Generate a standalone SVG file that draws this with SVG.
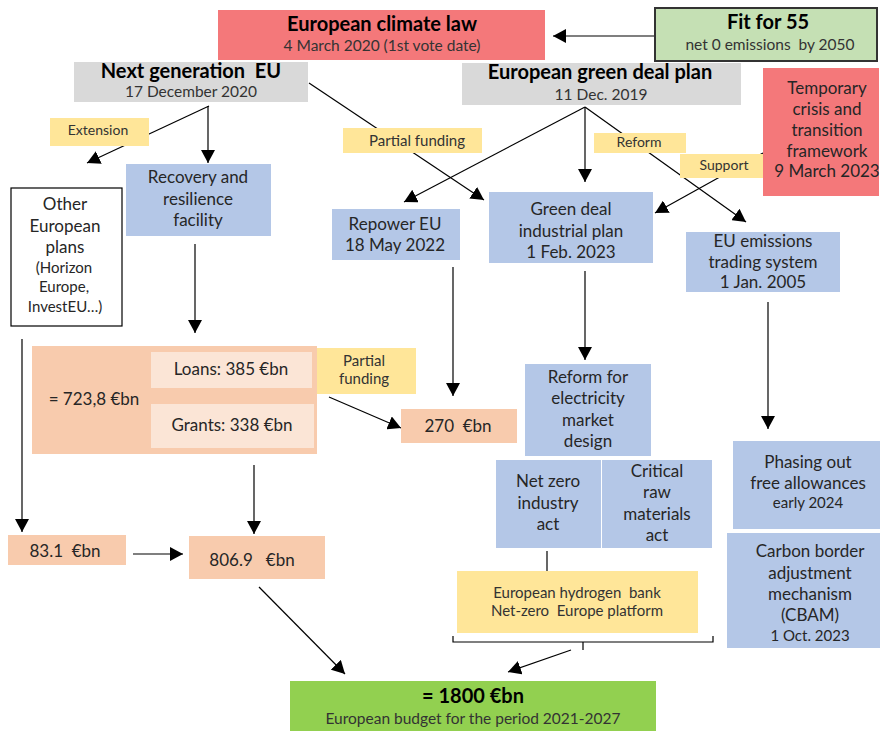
<svg xmlns="http://www.w3.org/2000/svg" width="880" height="731" viewBox="0 0 880 731">
<style>
text{font-family:Lato,"Open Sans","Liberation Sans",sans-serif;fill:#262626;text-anchor:middle;white-space:pre}
.t{font-weight:bold;font-size:20px;fill:#000}
.s{font-size:15.5px;fill:#333}
.b{font-size:17px}
.m{font-size:15px}
.l{font-size:14px;fill:#333}
.h{font-size:15px;fill:#333}
.red{fill:#F4787A}
.gray{fill:#D9D9D9}
.blue{fill:#B4C7E7}
.org{fill:#F8CBAD}
.lorg{fill:#FBE5D6}
.yel{fill:#FFE699}
.c line,.c path{stroke:#000;stroke-width:1.2;fill:none}
.c .a{marker-end:url(#ah)}
</style>
<defs>
<marker id="ah" markerUnits="userSpaceOnUse" markerWidth="14" markerHeight="14" refX="13" refY="7" orient="auto">
<path d="M0,0 L13,7 L0,14 z" fill="#000"/>
</marker>
</defs>
<rect width="880" height="731" fill="#fff"/>
<g class="c" id="connectors">
<line class="a" x1="654" y1="36" x2="553" y2="36"/>
<line class="a" x1="209" y1="106" x2="87" y2="163"/>
<line class="a" x1="208" y1="106" x2="208" y2="163"/>
<line class="a" x1="309" y1="83" x2="484" y2="200"/>
<line class="a" x1="585" y1="107" x2="404" y2="202"/>
<line class="a" x1="585" y1="107" x2="585" y2="182"/>
<line class="a" x1="585" y1="107" x2="746" y2="222"/>
<line class="a" x1="763" y1="153" x2="655" y2="213"/>
<line class="a" x1="195" y1="244" x2="195" y2="333"/>
<line class="a" x1="22" y1="339" x2="22" y2="532"/>
<line class="a" x1="453" y1="267" x2="453" y2="396"/>
<line class="a" x1="329" y1="397" x2="401" y2="428"/>
<line class="a" x1="585" y1="271" x2="585" y2="360"/>
<line class="a" x1="768" y1="302" x2="768" y2="429"/>
<line class="a" x1="254" y1="465" x2="254" y2="534"/>
<line class="a" x1="133" y1="554" x2="183" y2="554"/>
<line class="a" x1="259" y1="587" x2="345" y2="674"/>
<line x1="547" y1="551" x2="547" y2="573"/>
<path d="M453,636 V642 H713 V636 M583,642 V650"/>
<line class="a" x1="571" y1="650" x2="508" y2="672"/>
</g>
<g id="climate-law">
<rect class="red" x="218" y="10" width="327" height="50"/>
<text class="t" x="382" y="31">European climate law</text>
<text class="s" x="382" y="51">4 March 2020 (1st vote date)</text>
</g>
<g id="fit-for-55">
<rect x="655" y="8" width="222" height="53" fill="#C5E0B4" stroke="#333" stroke-width="2"/>
<text class="t" x="768" y="29">Fit for 55</text>
<text class="s" x="770" y="50">net 0 emissions  by 2050</text>
</g>
<g id="ngeu">
<rect class="gray" x="74" y="62" width="234" height="40"/>
<text class="t" x="191" y="78">Next generation  EU</text>
<text class="s" x="191" y="97">17 December 2020</text>
</g>
<g id="green-deal">
<rect class="gray" x="462" y="63" width="279" height="42"/>
<text class="t" x="600" y="79">European green deal plan</text>
<text class="s" x="601" y="100">11 Dec. 2019</text>
</g>
<g id="temporary">
<rect class="red" x="763" y="68" width="116" height="128"/>
<text class="b" x="827" y="94">Temporary</text>
<text class="b" x="827" y="115">crisis and</text>
<text class="b" x="827" y="136">transition</text>
<text class="b" x="827" y="157">framework</text>
<text class="b" x="827" y="177">9 March 2023</text>
</g>
<g id="lbl-extension">
<rect class="yel" x="50" y="118" width="99" height="28"/>
<text class="l" x="98" y="135">Extension</text>
</g>
<g id="lbl-partial-funding-1">
<rect class="yel" x="343" y="128" width="139" height="25"/>
<text class="h" x="417" y="146">Partial funding</text>
</g>
<g id="lbl-reform">
<rect class="yel" x="594" y="133" width="92" height="20"/>
<text class="l" x="639" y="147">Reform</text>
</g>
<g id="lbl-support">
<rect class="yel" x="680" y="154" width="83" height="24"/>
<text class="l" x="724" y="170">Support</text>
</g>
<g id="other-plans">
<rect x="11" y="188" width="111" height="138" fill="#fff" stroke="#000" stroke-width="1.2"/>
<text class="b" x="65" y="210">Other</text>
<text class="b" x="65" y="232">European</text>
<text class="b" x="65" y="253">plans</text>
<text class="m" x="64" y="273">(Horizon</text>
<text class="m" x="64" y="292">Europe,</text>
<text class="m" x="65" y="312">InvestEU…)</text>
</g>
<g id="rrf">
<rect class="blue" x="126" y="164" width="145" height="72"/>
<text class="b" x="198" y="183">Recovery and</text>
<text class="b" x="198" y="205">resilience</text>
<text class="b" x="198" y="226">facility</text>
</g>
<g id="repower">
<rect class="blue" x="332" y="209" width="128" height="51"/>
<text class="b" x="395" y="230">Repower EU</text>
<text class="b" x="395" y="251">18 May 2022</text>
</g>
<g id="gdip">
<rect class="blue" x="489" y="192" width="164" height="71"/>
<text class="b" x="571" y="215">Green deal</text>
<text class="b" x="571" y="237">industrial plan</text>
<text class="b" x="571" y="258">1 Feb. 2023</text>
</g>
<g id="ets">
<rect class="blue" x="686" y="232" width="154" height="60"/>
<text class="b" x="763" y="247">EU emissions</text>
<text class="b" x="763" y="268">trading system</text>
<text class="b" x="763" y="288">1 Jan. 2005</text>
</g>
<g id="rrf-total">
<rect class="org" x="32" y="346" width="285" height="108"/>
<rect class="lorg" x="151" y="352" width="161" height="36"/>
<rect class="lorg" x="151" y="404" width="163" height="44"/>
<text class="b" x="94" y="405">= 723,8 €bn</text>
<text class="b" x="231" y="375">Loans: 385 €bn</text>
<text class="b" x="232" y="431">Grants: 338 €bn</text>
</g>
<g id="lbl-partial-funding-2">
<rect class="yel" x="317" y="348" width="99" height="46"/>
<text class="h" x="364" y="366">Partial</text>
<text class="h" x="364" y="384">funding</text>
</g>
<g id="repower-270">
<rect class="org" x="401" y="409" width="116" height="34"/>
<text class="b" x="458" y="432">270  €bn</text>
</g>
<g id="reform-electricity">
<rect class="blue" x="525" y="364" width="126" height="92"/>
<text class="b" x="588" y="383">Reform for</text>
<text class="b" x="588" y="404">electricity</text>
<text class="b" x="588" y="426">market</text>
<text class="b" x="588" y="447">design</text>
</g>
<g id="net-zero-act">
<rect class="blue" x="496" y="460" width="105" height="88"/>
<text class="b" x="548" y="487">Net zero</text>
<text class="b" x="548" y="509">industry</text>
<text class="b" x="548" y="530">act</text>
</g>
<g id="critical-raw">
<rect class="blue" x="602" y="460" width="110" height="88"/>
<text class="b" x="657" y="477">Critical</text>
<text class="b" x="657" y="498">raw</text>
<text class="b" x="657" y="520">materials</text>
<text class="b" x="657" y="541">act</text>
</g>
<g id="hydrogen">
<rect class="yel" x="457" y="571" width="241" height="62"/>
<text class="h" x="577" y="598">European hydrogen  bank</text>
<text class="h" x="577" y="616">Net-zero  Europe platform</text>
</g>
<g id="phasing-out">
<rect class="blue" x="733" y="441" width="147" height="88"/>
<text class="b" x="808" y="468">Phasing out</text>
<text class="b" x="808" y="489">free allowances</text>
<text class="m" x="808" y="508">early 2024</text>
</g>
<g id="cbam">
<rect class="blue" x="727" y="533" width="153" height="115"/>
<text class="b" x="810" y="557">Carbon border</text>
<text class="b" x="810" y="579">adjustment</text>
<text class="b" x="810" y="600">mechanism</text>
<text class="b" x="810" y="621">(CBAM)</text>
<text class="m" x="810" y="641">1 Oct. 2023</text>
</g>
<g id="other-83">
<rect class="org" x="8" y="535" width="118" height="30"/>
<text class="b" x="65" y="557">83.1  €bn</text>
</g>
<g id="ngeu-806">
<rect class="org" x="189" y="536" width="136" height="43"/>
<text class="b" x="252" y="566">806.9   €bn</text>
</g>
<g id="budget">
<rect x="290" y="681" width="366" height="50" fill="#92D050"/>
<text class="t" x="473" y="703">= 1800 €bn</text>
<text class="s" x="473" y="724">European budget for the period 2021-2027</text>
</g>
</svg>
